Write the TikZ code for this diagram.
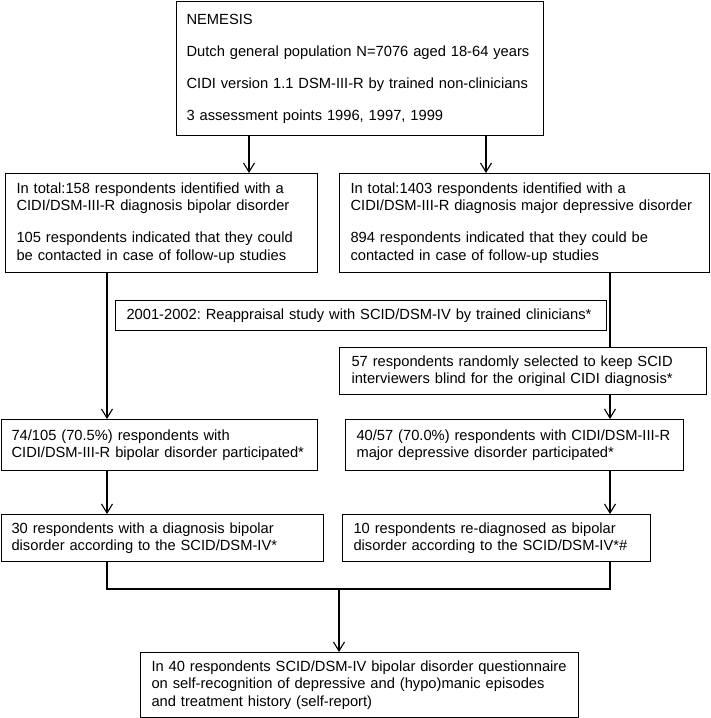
\documentclass[tikz,border=0pt]{standalone}
\usepackage{fontspec}
\setmainfont{Liberation Sans}
\usetikzlibrary{arrows.meta}
\frenchspacing
\begin{document}
\begin{tikzpicture}[x=1pt,y=-1pt,
  box/.style={draw, line width=1.1pt, anchor=north west, align=left, inner ysep=0pt,
    font=\fontsize{14.7}{17.3}\selectfont},
  arr/.style={line width=1.1pt, -{Straight Barb[length=9pt,width=11pt,line width=1.1pt]}},
  ln/.style={line width=1.1pt}]
\useasboundingbox (0,0) rectangle (710,718);
% boxes
\node[box, text width=347pt, inner xsep=10pt, minimum height=134pt] (top) at (176,1)
 {NEMESIS\\[14.7pt]Dutch general population N=7076 aged 18-64 years\\[14.7pt]CIDI version 1.1 DSM-III-R by trained non-clinicians\\[14.7pt]3 assessment points 1996, 1997, 1999};
\node[box, text width=290pt, inner xsep=11pt, minimum height=99pt] (L2) at (5,173)
 {In total:158 respondents identified with a\\CIDI/DSM-III-R diagnosis bipolar disorder\\[14.7pt]105 respondents indicated that they could\\be contacted in case of follow-up studies};
\node[box, text width=348pt, inner xsep=11pt, minimum height=99pt] (R2) at (339,173)
 {In total:1403 respondents identified with a\\CIDI/DSM-III-R diagnosis major depressive disorder\\[14.7pt]894 respondents indicated that they could be\\contacted in case of follow-up studies};
\node[box, text width=469pt, inner xsep=11pt, minimum height=30pt] (mid) at (115,300)
 {2001-2002: Reappraisal study with SCID/DSM-IV by trained clinicians*};
\node[box, text width=343pt, inner xsep=12pt, minimum height=47pt] (R3) at (339,347)
 {57 respondents randomly selected to keep SCID\\interviewers blind for the original CIDI diagnosis*};
\node[box, text width=296pt, inner xsep=10pt, minimum height=51pt] (L4) at (1,419)
 {74/105 (70.5\%) respondents with\\CIDI/DSM-III-R bipolar disorder participated*};
\node[box, text width=316pt, inner xsep=11pt, minimum height=51pt] (R4) at (345,419)
 {40/57 (70.0\%) respondents with CIDI/DSM-III-R\\major depressive disorder participated*};
\node[box, text width=302pt, inner xsep=10pt, minimum height=47pt] (L5) at (1,514)
 {30 respondents with a diagnosis bipolar\\disorder according to the SCID/DSM-IV*};
\node[box, text width=286pt, inner xsep=11pt, minimum height=47pt] (R5) at (342,514)
 {10 respondents re-diagnosed as bipolar\\disorder according to the SCID/DSM-IV*\#};
\node[box, text width=416pt, inner xsep=11pt, minimum height=65pt] (bot) at (140,652)
 {In 40 respondents SCID/DSM-IV bipolar disorder questionnaire\\on self-recognition of depressive and (hypo)manic episodes\\and treatment history (self-report)};
% connector positions
\coordinate (xa) at (249,0);
\coordinate (xb) at (486,0);
\coordinate (xl) at (107,0);
\coordinate (xr) at (610,0);
\coordinate (jn) at (339,589);
% connectors
\draw[arr] (top.south -| xa) -- (L2.north -| xa);
\draw[arr] (top.south -| xb) -- (R2.north -| xb);
\draw[arr] (L2.south -| xl) -- (L4.north -| xl);
\draw[ln] (R2.south -| xr) -- (R3.north -| xr);
\draw[arr] (R3.south -| xr) -- (R4.north -| xr);
\draw[arr] (R4.south -| xr) -- (R5.north -| xr);
\draw[arr] (L4.south -| xl) -- (L5.north -| xl);
\draw[ln] (L5.south -| xl) -- (xl |- jn) -- (xr |- jn) -- (R5.south -| xr);
\draw[arr] (jn) -- (bot.north -| jn);
\end{tikzpicture}
\end{document}
